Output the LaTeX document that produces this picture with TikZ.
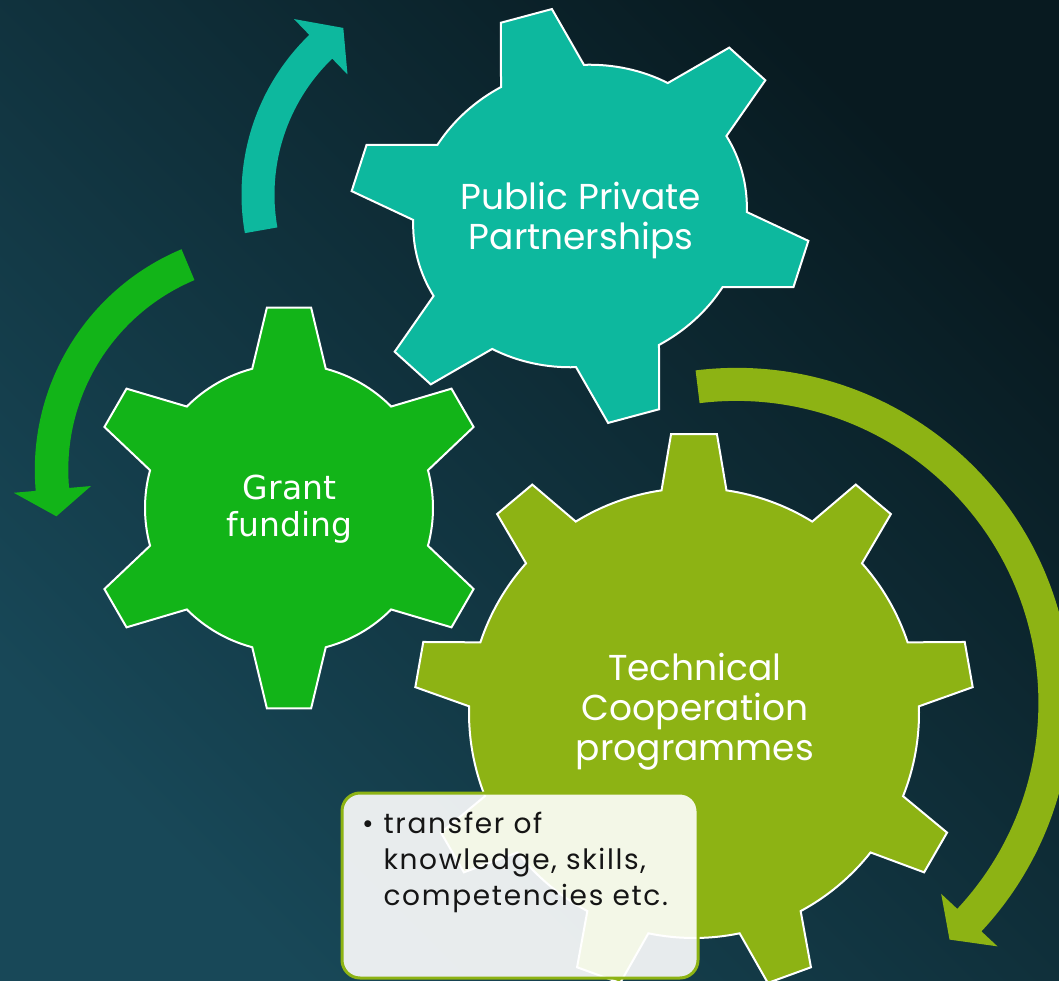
\documentclass[tikz,border=0pt]{standalone}
\usepackage{fontspec}
\setmainfont{Poppins}
\newfontfamily\grantfont{DejaVu Sans}
\newfontfamily\notefont[LetterSpace=6]{Poppins}
\definecolor{bgdark}{HTML}{081A20}
\definecolor{bglight}{HTML}{184858}
\definecolor{tealgear}{HTML}{0DB89E}
\definecolor{greengear}{HTML}{12B418}
\definecolor{olivegear}{HTML}{8DB314}
\definecolor{notetext}{HTML}{151515}
\tikzset{
	gearline/.style={draw=white, line width=2pt, line join=miter},
	gearlabel/.style={text=white, align=center, font=\fontsize{36}{40}\selectfont},
	notebox/.style={draw=olivegear, line width=3pt, fill=white, fill opacity=0.9, rounded corners=18pt}
}
% gear: placement, teeth, tip radius, root half angle, tip half angle, colour
\newcommand{\gearshape}[6]{
	\begin{scope}[#1]
		\filldraw[gearline, fill=#6] (90-#4:1)
			\foreach \k [evaluate=\k as \a using 90+(\k-1)*360/#2] in {1,...,#2} {
				-- ({\a-#4}:1) -- ({\a-#5}:#3) -- ({\a+#5}:#3) -- ({\a+#4}:1)
				arc[start angle={\a+#4}, end angle={\a+360/#2-#4}, radius=1]
			} -- cycle;
	\end{scope}
}
% circular arrow: centre, inner radius, outer radius, tail angle, head angle, tip angle, colour
\newcommand{\cyclearrow}[7]{
	\fill[#7, shift={#1}] (#4:#3) arc[start angle=#4, end angle=#5, radius=#3]
		-- ({#5}:{#3+22}) -- ({#6}:{(#2+#3)/2}) -- ({#5}:{#2-22}) -- ({#5}:#2)
		arc[start angle=#5, end angle=#4, radius=#2] -- cycle;
}
\begin{document}
\begin{tikzpicture}[x=1pt, y=1pt]
	\useasboundingbox (0,0) rectangle (1059,980);
	\clip (0,0) rectangle (1059,980);
	\shade[top color=bgdark, bottom color=bglight, shading angle=-45] (0,0) rectangle (1059,980);

	% arrows
	\cyclearrow{(463.5,785.4)}{189}{222}{190}{134}{125.8}{tealgear}
	\cyclearrow{(274.3,510)}{206}{239.5}{112.8}{185}{192}{greengear}
	\cyclearrow{(736.4,277.1)}{302}{335}{97}{-43}{-48}{olivegear}

	% gears
	\gearshape{shift={(580,764)}, rotate=15, xscale=168, yscale=150}{6}{1.39}{14.8}{6.5}{tealgear}
	\gearshape{shift={(289,472)}, scale=144}{6}{1.4}{14.8}{6.3}{greengear}
	\gearshape{shift={(694,267)}, scale=225}{9}{1.244}{8.3}{4.7}{olivegear}

	\node[gearlabel] (ppp) at (581,760) {Public Private\\Partnerships};
	\node[gearlabel, font=\grantfont\fontsize{33}{37}\selectfont] (grant) at (289.5,470.5) {Grant\\funding};
	\node[gearlabel] (techcoop) at (695,268.5) {Technical\\Cooperation\\programmes};

	% notes
	\draw[notebox] (342,187) rectangle (698,2);
	\node[anchor=north west, align=left, text=notetext, font=\notefont\fontsize{28}{36}\selectfont] (notes) at (380,171)
		{\makebox[0pt][r]{\textbullet\hspace{10pt}}transfer of\\knowledge, skills,\\competencies etc.};
\end{tikzpicture}
\end{document}
